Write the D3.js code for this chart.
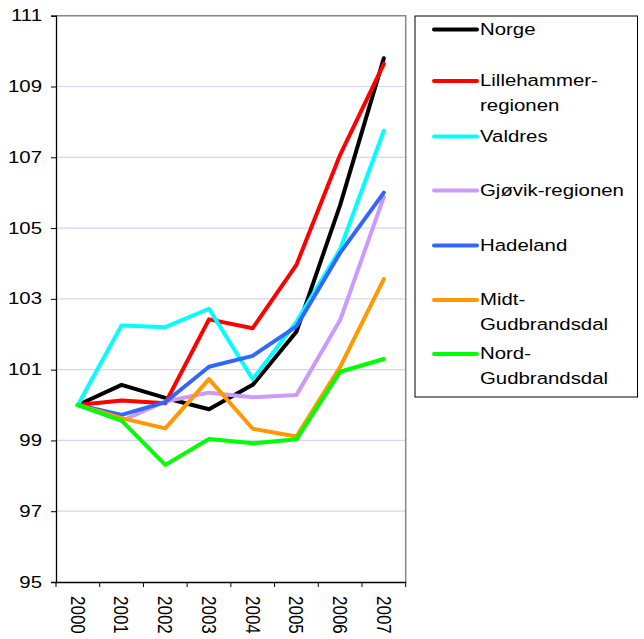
<!DOCTYPE html>
<html>
<head>
<meta charset="utf-8">
<script src="https://cdn.jsdelivr.net/npm/d3@7"></script>
<style>
  body { margin: 0; background: #fff; }
  text { font-family: "Liberation Sans", Arial, sans-serif; fill: #000; }
</style>
</head>
<body>
<script>
(function () {
  "use strict";
  var years = ["2000", "2001", "2002", "2003", "2004", "2005", "2006", "2007"],
    names = ["Norge", "Lillehammer-regionen", "Valdres", "Gjøvik-regionen", "Hadeland", "Midt-Gudbrandsdal", "Nord-Gudbrandsdal"],
    legendLabels = [["Norge"], ["Lillehammer-", "regionen"], ["Valdres"], ["Gjøvik-regionen"], ["Hadeland"], ["Midt-", "Gudbrandsdal"], ["Nord-", "Gudbrandsdal"]],
    colors = ["#000000", "#ff0000", "#00ffff", "#cc99ff", "#3366ff", "#ff9900", "#00ff00"],
    yTicks = [95, 97, 99, 101, 103, 105, 107, 109, 111];

  var norge = [100, 100.57, 100.2, 99.88, 100.57, 102.07, 105.65, 109.8],
    lillehammer = [100, 100.13, 100.05, 102.42, 102.17, 103.96, 107.07, 109.64],
    valdres = [100, 102.25, 102.2, 102.72, 100.73, 102.35, 104.4, 107.75],
    gjovik = [100, 99.55, 100.1, 100.35, 100.22, 100.28, 102.4, 105.88],
    hadeland = [100, 99.72, 100.08, 101.08, 101.39, 102.22, 104.3, 106.0],
    midt = [100, 99.63, 99.34, 100.73, 99.33, 99.11, 101.08, 103.56],
    nord = [100, 99.56, 98.31, 99.04, 98.92, 99.03, 100.94, 101.3];

  var series = [norge, lillehammer, valdres, gjovik, hadeland, midt, nord];

  var width = 644, height = 639,
    left = 56, top = 15.7, right = 405.7, bottom = 582,
    stretch = 1.2; // text in the original is wider than it is tall

  var svg = d3.select("body").append("svg")
    .attr("width", width)
    .attr("height", height);

  var x = d3.scaleBand().domain(years).range([left, right]),
    y = d3.scaleLinear().domain([95, 111]).range([bottom, top]);

  // grid lines
  svg.selectAll(".grid")
    .data(yTicks.filter(function (d) { return d > 95 && d < 111; }))
    .enter().append("line")
    .attr("class", "grid")
    .attr("x1", left).attr("x2", right)
    .attr("y1", function (d) { return y(d); })
    .attr("y2", function (d) { return y(d); })
    .attr("stroke", "#d4d4f8")
    .attr("stroke-width", 1.2);

  // plot frame (top and right)
  svg.append("path")
    .attr("d", "M" + left + "," + top + "H" + right + "V" + bottom)
    .attr("fill", "none")
    .attr("stroke", "#888")
    .attr("stroke-width", 1.5);

  // y axis
  var yAxis = svg.append("g")
    .attr("transform", "translate(" + left + ",0)")
    .call(d3.axisLeft(y).tickValues(yTicks).tickSize(5).tickFormat(""));
  yAxis.select(".domain").attr("stroke", "#000").attr("stroke-width", 1.3);
  yAxis.selectAll(".tick line").attr("stroke", "#000");

  svg.selectAll(".ylabel")
    .data(yTicks)
    .enter().append("text")
    .attr("class", "ylabel")
    .attr("transform", function (d) {
      return "translate(42," + y(d) + ") scale(" + stretch + ",1)";
    })
    .attr("text-anchor", "end")
    .attr("dy", "0.33em")
    .style("font-size", "17px")
    .text(function (d) { return d; });

  // x axis
  var xAxis = svg.append("g")
    .attr("transform", "translate(0," + bottom + ")")
    .call(d3.axisBottom(x).tickSize(0).tickFormat(""));
  xAxis.select(".domain").attr("stroke", "#000").attr("stroke-width", 1.3);
  xAxis.selectAll(".tick").remove();

  var edges = years.map(function (d) { return x(d); }).concat([right]);
  svg.selectAll(".xtick")
    .data(edges)
    .enter().append("line")
    .attr("class", "xtick")
    .attr("x1", function (d) { return d; })
    .attr("x2", function (d) { return d; })
    .attr("y1", bottom).attr("y2", bottom + 5)
    .attr("stroke", "#000");

  svg.selectAll(".xlabel")
    .data(years)
    .enter().append("text")
    .attr("class", "xlabel")
    .attr("transform", function (d) {
      return "translate(" + (x(d) + x.bandwidth() / 2) + "," + (bottom + 14) + ") scale(" + stretch + ",1) rotate(90)";
    })
    .attr("dy", "0.35em")
    .style("font-size", "17px")
    .text(function (d) { return d; });

  // lines
  var line = d3.line()
    .x(function (d, i) { return x(years[i]) + x.bandwidth() / 2; })
    .y(function (d) { return y(d); });

  svg.selectAll(".series")
    .data(series)
    .enter().append("path")
    .attr("class", "series")
    .attr("d", line)
    .attr("fill", "none")
    .attr("stroke", function (d, i) { return colors[i]; })
    .attr("stroke-width", 4)
    .attr("stroke-linejoin", "round")
    .attr("stroke-linecap", "round");

  // legend
  var legendY = [29.5, 81, 136.5, 190.5, 245.5, 300, 354];
  svg.append("rect")
    .attr("x", 415).attr("y", 16)
    .attr("width", 222.5).attr("height", 381)
    .attr("fill", "#fff")
    .attr("stroke", "#000")
    .attr("stroke-width", 1);

  var items = svg.selectAll(".legend")
    .data(names)
    .enter().append("g")
    .attr("class", "legend")
    .attr("transform", function (d, i) { return "translate(0," + legendY[i] + ")"; });

  items.append("line")
    .attr("x1", 434).attr("x2", 477)
    .attr("y1", 0).attr("y2", 0)
    .attr("stroke", function (d, i) { return colors[i]; })
    .attr("stroke-width", 4)
    .attr("stroke-linecap", "round");

  items.each(function (d, i) {
    var t = d3.select(this).append("text")
      .attr("transform", "translate(480,0) scale(" + stretch + ",1)")
      .style("font-size", "17px");
    legendLabels[i].forEach(function (s, k) {
      t.append("tspan")
        .attr("x", 0)
        .attr("dy", k === 0 ? "5px" : "25.5px")
        .text(s);
    });
  });
})();
</script>
</body>
</html>
